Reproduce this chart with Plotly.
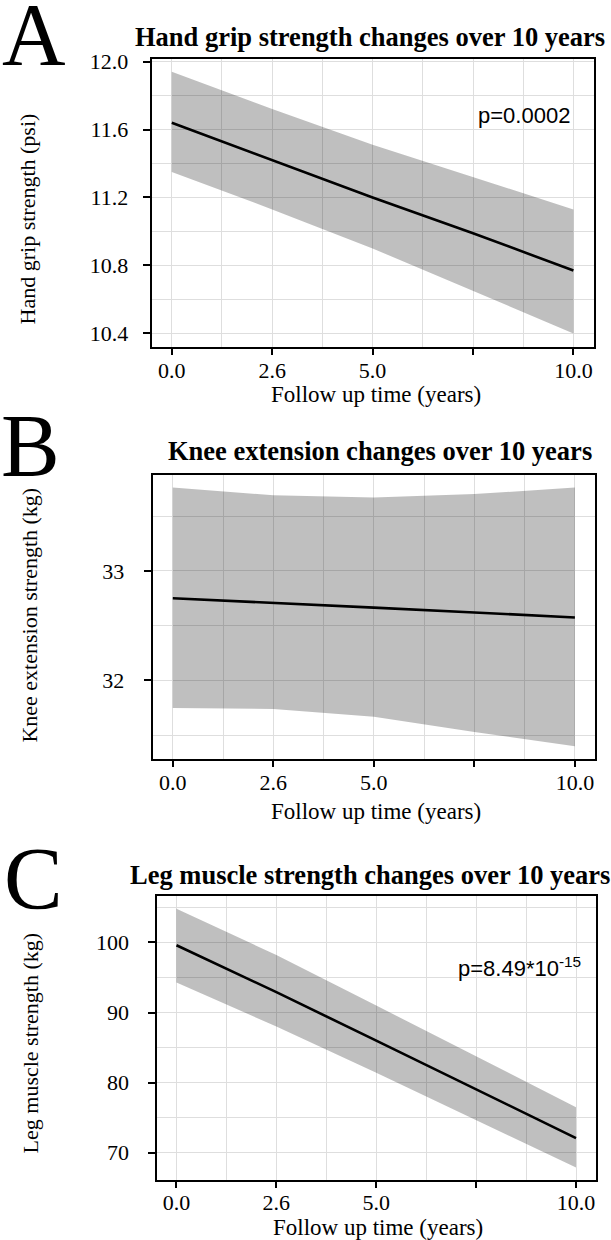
import plotly.graph_objects as go

W, H = 611, 1240

# ---------------- data ----------------
time = [0, 2.5, 5, 7.5, 10]
x_tickvals = [0, 2.5, 5, 7.5, 10]
x_ticktext = ["0.0", "2.6", "5.0", "", "10.0"]

grip_fit = [11.64, 11.42, 11.20, 10.99, 10.77]
grip_upper = [11.94, 11.72, 11.51, 11.32, 11.13]
grip_lower = [11.35, 11.13, 10.90, 10.65, 10.40]
grip_ticks = [10.4, 10.8, 11.2, 11.6, 12.0]
grip_minor = [10.6, 11.0, 11.4, 11.8]

knee_fit = [32.75, 32.71, 32.665, 32.62, 32.575]
knee_upper = [33.76, 33.69, 33.67, 33.70, 33.76]
knee_lower = [31.75, 31.74, 31.67, 31.53, 31.40]
knee_ticks = [32, 33]
knee_minor = [31.5, 32.5, 33.5]

leg_fit = [99.6, 92.9, 86.0, 79.0, 72.1]
leg_upper = [104.8, 98.2, 91.0, 83.7, 76.5]
leg_lower = [94.3, 88.0, 81.4, 74.6, 67.9]
leg_ticks = [70, 80, 90, 100]
leg_minor = [75, 85, 95, 105]

titles = ["Hand grip strength changes over 10 years",
          "Knee extension changes over 10 years",
          "Leg muscle strength changes over 10 years"]
y_titles = ["Hand grip strength (psi)",
            "Knee extension strength (kg)",
            "Leg muscle strength (kg)"]
x_title = "Follow up time (years)"
letters = ["A", "B", "C"]
p_texts = ["p=0.0002", "p=8.49*10<sup>-15</sup>"]

# ---------------- layout geometry (pixels) ----------------
boxes = [  # left, right, top, bottom
    (151.7, 593.5, 50, 340),
    (152.7, 595.0, 469, 755.7),
    (156.5, 596.0, 893.3, 1180),
]
x_label_standoff = [-3, -4, -5]
y_label_standoff = [10, 15, 14]

SERIF = "Liberation Serif"
SANS = "Liberation Sans"
GRID = "#dedede"

def px(x):
    return x / W

def py(y):
    return 1 - y / H

fig = go.Figure()
series = [
    (grip_fit, grip_upper, grip_lower, grip_ticks, grip_minor, ".1f"),
    (knee_fit, knee_upper, knee_lower, knee_ticks, knee_minor, "d"),
    (leg_fit, leg_upper, leg_lower, leg_ticks, leg_minor, "d"),
]

layout_axes = {}
for i, (fit, up, lo, yt, ym, fmt) in enumerate(series):
    sfx = "" if i == 0 else str(i + 1)
    xa, ya = "x" + sfx, "y" + sfx
    fig.add_trace(go.Scatter(x=time, y=lo, mode="lines", line=dict(width=0),
                             showlegend=False, hoverinfo="skip", xaxis=xa, yaxis=ya))
    fig.add_trace(go.Scatter(x=time, y=up, mode="lines", line=dict(width=0),
                             fill="tonexty", fillcolor="rgba(0,0,0,0.25)",
                             showlegend=False, hoverinfo="skip", xaxis=xa, yaxis=ya))
    fig.add_trace(go.Scatter(x=time, y=fit, mode="lines",
                             line=dict(color="black", width=2.6),
                             showlegend=False, xaxis=xa, yaxis=ya))
    lo_all, hi_all = min(lo), max(up)
    pad = 0.05 * (hi_all - lo_all)
    l, r, t, b = boxes[i]
    common = dict(showline=True, linecolor="black", linewidth=2, mirror=True,
                  ticks="outside", tickwidth=1.5, tickcolor="black",
                  showgrid=True, gridcolor=GRID, gridwidth=1, zeroline=False,
                  tickfont=dict(family=SERIF, size=22, color="black"))
    layout_axes["xaxis" + sfx] = dict(
        common, domain=[px(l), px(r)], anchor=ya, range=[-0.5, 10.5],
        tickmode="array", tickvals=x_tickvals, ticktext=x_ticktext,
        ticklen=6, ticklabelstandoff=x_label_standoff[i],
        minor=dict(tickvals=[1.25, 3.75, 6.25, 8.75], showgrid=True,
                   gridcolor=GRID, gridwidth=1, ticks=""))
    layout_axes["yaxis" + sfx] = dict(
        common, domain=[py(b), py(t)], anchor=xa,
        range=[lo_all - pad, hi_all + pad],
        tickmode="array", tickvals=yt,
        ticklen=7, ticklabelstandoff=y_label_standoff[i],
        ticktext=[format(v, fmt) if fmt != "d" else str(int(v)) for v in yt],
        minor=dict(tickvals=ym, showgrid=True, gridcolor=GRID,
                   gridwidth=1, ticks=""))

annotations = []
letter_pos = [(0, 26), (-1, 440), (2, 876)]
title_pos = [(370, 28), (380, 445), (370, 872)]
xt_pos = [(376, 388), (376, 808), (378, 1227)]
yt_pos = [(27, 212), (30, 611), (30, 1042)]
p_pos = [(524, 107), (519, 965)]

for i in range(3):
    lx, ly = letter_pos[i]
    annotations.append(dict(text=letters[i], x=px(lx), y=py(ly), xref="paper", yref="paper",
                            xanchor="left", yanchor="middle", showarrow=False,
                            font=dict(family=SERIF, size=88, color="black")))
    tx, ty = title_pos[i]
    annotations.append(dict(text="<b>" + titles[i] + "</b>", x=px(tx), y=py(ty),
                            xref="paper", yref="paper", xanchor="center", yanchor="middle",
                            showarrow=False, font=dict(family=SERIF, size=26.5, color="black")))
    xx, xy = xt_pos[i]
    annotations.append(dict(text=x_title, x=px(xx), y=py(xy), xref="paper", yref="paper",
                            xanchor="center", yanchor="middle", showarrow=False,
                            font=dict(family=SERIF, size=23, color="black")))
    yx, yy = yt_pos[i]
    annotations.append(dict(text=y_titles[i], x=px(yx), y=py(yy), xref="paper", yref="paper",
                            xanchor="center", yanchor="middle", showarrow=False, textangle=-90,
                            font=dict(family=SERIF, size=22, color="black")))

for j in range(2):
    x0, y0 = p_pos[j]
    annotations.append(dict(text=p_texts[j], x=px(x0), y=py(y0), xref="paper", yref="paper",
                            xanchor="center", yanchor="middle", showarrow=False,
                            font=dict(family=SANS, size=22, color="black")))

fig.update_layout(width=W, height=H, margin=dict(l=0, r=0, t=0, b=0),
                  paper_bgcolor="white", plot_bgcolor="white",
                  showlegend=False, annotations=annotations, **layout_axes)

fig.write_html("out.html", config={"displayModeBar": False},
               post_script="document.body.style.margin='0';document.body.style.overflow='hidden';")
